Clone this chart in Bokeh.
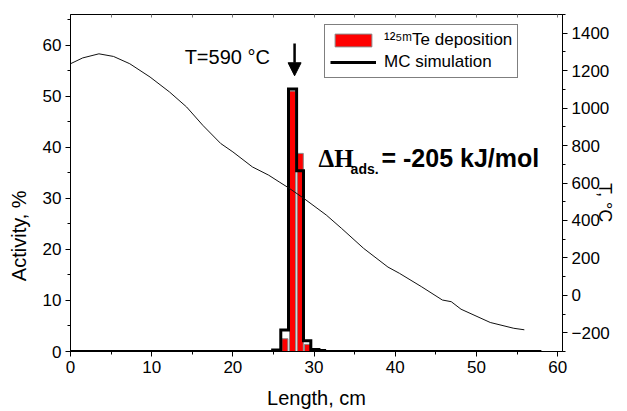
import math
from bokeh.plotting import figure
from bokeh.models import (Range1d, LinearAxis, FixedTicker, Label, Arrow,
                          NormalHead, Legend, LegendItem)
from bokeh.embed import file_html
from bokeh.resources import INLINE

# ---------------- data ----------------
# 125mTe deposition (activity, %) per column bin
dep_x = [26.4, 27.35, 28.3, 29.2]
dep_y = [2.5, 51.0, 38.8, 1.4]

# MC simulation histogram (bin edges, cm) and activity (%)
mc_edges = [0.0, 24.9, 25.9, 26.85, 27.85, 28.7, 29.6, 30.6, 31.3, 58.0]
mc_y = [0.0, 0.3, 4.2, 51.4, 35.4, 2.1, 0.4, 0.2, 0.0, 0.0]

# temperature profile (cm, °C)
T_x = [0.0, 1.5, 3.5, 5.3, 7.3, 9.8, 12.2, 14.3, 16.3, 18.5, 20.0, 22.4,
       24.4, 25.7, 26.9, 28.7, 31.5, 33.4, 36.1, 39.1, 40.5, 43.2, 45.8,
       46.9, 48.1, 51.7, 54.6, 55.9]
T_y = [1237, 1268, 1290, 1276, 1237, 1166, 1086, 1006, 908, 811, 766, 686,
       642, 606, 573, 519, 429, 357, 251, 151, 118, 47, -25,
       -34, -74, -145, -176, -184]

x_ticks = [0, 10, 20, 30, 40, 50, 60]
x_minor = [5, 15, 25, 35, 45, 55]
top_ticks = [0, 5, 10, 15, 20, 25, 30, 35, 40, 45, 50, 55, 60]
y_ticks = [0, 10, 20, 30, 40, 50, 60]
y_minor = [5, 15, 25, 35, 45, 55, 65]
T_ticks = [-200, 0, 200, 400, 600, 800, 1000, 1200, 1400]
T_minor = [-300, -100, 100, 300, 500, 700, 900, 1100, 1300, 1500]

FONT = "Liberation Sans"
NB = "\u00a0"

p = figure(width=627, height=411, output_backend="svg", toolbar_location=None,
           x_range=Range1d(0, 60.6), y_range=Range1d(0, 66),
           min_border_left=70, min_border_right=61, min_border_top=14,
           min_border_bottom=59, background_fill_color="white",
           border_fill_color="white")
p.extra_y_ranges = {"T": Range1d(-300, 1500)}
p.grid.visible = False
p.outline_line_color = "black"
p.outline_line_width = 1

def style_axis(ax):
    ax.axis_line_color = "black"
    ax.axis_line_width = 1
    ax.major_tick_line_color = "black"
    ax.minor_tick_line_color = "black"
    ax.major_tick_out = 5
    ax.major_tick_in = 0
    ax.minor_tick_out = 3
    ax.minor_tick_in = 0
    ax.major_label_text_font = FONT
    ax.major_label_text_font_size = "17px"
    ax.major_label_text_color = "black"
    ax.major_label_standoff = 4
    ax.axis_label_text_font = FONT
    ax.axis_label_text_font_size = "20px"
    ax.axis_label_text_font_style = "normal"
    ax.axis_label_text_color = "black"

p.xaxis.ticker = FixedTicker(ticks=x_ticks, minor_ticks=x_minor)
p.yaxis.ticker = FixedTicker(ticks=y_ticks, minor_ticks=y_minor)
style_axis(p.xaxis[0])
style_axis(p.yaxis[0])
p.xaxis.axis_label = "Length, cm"
p.xaxis.axis_label_standoff = 11
p.yaxis.axis_label = "Activity, %" + NB * 19
p.yaxis.axis_label_standoff = 10

tax = LinearAxis(y_range_name="T",
                 ticker=FixedTicker(ticks=T_ticks, minor_ticks=T_minor))
style_axis(tax)
tax.axis_label = "T, \u00b0C" + NB * 9
tax.axis_label_text_font_size = "18px"
tax.axis_label_standoff = -8
if "axis_label_orientation" in tax.properties():
    tax.axis_label_orientation = -math.pi / 2
p.add_layout(tax, "right")

# top frame ticks (no labels)
top = LinearAxis(ticker=FixedTicker(ticks=[], minor_ticks=top_ticks))
top.major_tick_out = 0
top.major_tick_in = 0
top.minor_tick_out = 0
top.minor_tick_in = 3
top.minor_tick_line_color = "#777777"
top.axis_line_color = "black"
top.major_label_standoff = 0
p.add_layout(top, "above")

# bars
r_bar = p.vbar(x=dep_x, top=dep_y, bottom=0, width=0.75,
               fill_color="#ff0000", line_color="#8a8a8a", line_width=1)
# MC histogram
r_mc = p.step(x=mc_edges, y=mc_y, mode="after", line_width=3,
              line_color="black", line_join="miter")
# temperature
p.line(T_x, T_y, y_range_name="T", line_width=1, line_color="#111111")

legend = Legend(items=[LegendItem(label="\u00b9\u00b2\u2075\u1d50Te deposition", renderers=[r_bar]),
                       LegendItem(label="MC simulation", renderers=[r_mc])],
                location=(254, 273), orientation="vertical",
                border_line_color="black", border_line_width=1,
                background_fill_color="white", background_fill_alpha=1,
                label_text_font=FONT, label_text_font_size="17px",
                label_text_color="black",
                glyph_width=46, glyph_height=16, label_standoff=8,
                padding=5, spacing=2, margin=0, label_height=20)
p.add_layout(legend)

p.add_layout(Label(x=14.06, y=57.6, text="T=590 \u00b0C", text_font=FONT,
                   text_font_size="20px", text_baseline="alphabetic",
                   text_align="left", text_color="black"))
p.add_layout(Arrow(end=NormalHead(size=13, fill_color="black", line_color="black"),
                   x_start=27.6, y_start=60.3, x_end=27.6, y_end=54.0,
                   line_width=2.5, line_color="black"))

p.add_layout(Label(x=30.56, y=37.8, text="\u0394H", text_font="Liberation Serif",
                   text_font_size="25px", text_font_style="bold",
                   text_baseline="alphabetic", text_align="left",
                   text_color="black"))
p.add_layout(Label(x=34.5, y=35.7, text="ads.", text_font=FONT,
                   text_font_size="14px", text_font_style="bold",
                   text_baseline="alphabetic", text_align="left",
                   text_color="black"))
p.add_layout(Label(x=38.3, y=37.8, text="= -205 kJ/mol", text_font=FONT,
                   text_font_size="25px", text_font_style="bold",
                   text_baseline="alphabetic", text_align="left",
                   text_color="black"))

open("out.html", "w").write(file_html(p, INLINE))
